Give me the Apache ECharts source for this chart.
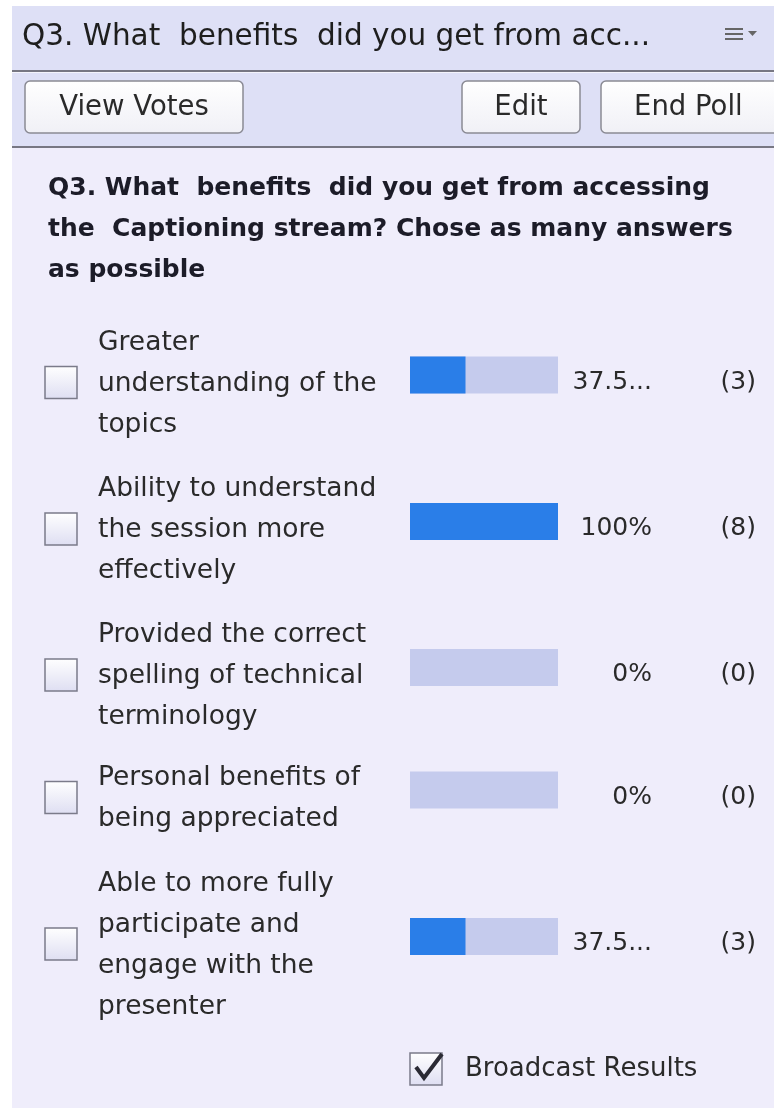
<!DOCTYPE html>
<html>
<head>
<meta charset="utf-8">
<script src="https://cdn.jsdelivr.net/npm/echarts@6/dist/echarts.min.js"></script>
<style>
html, body { margin: 0; padding: 0; background: #fff; }
#main { width: 774px; height: 1108px; }
</style>
</head>
<body>
<div id="main"></div>
<script>
// poll data
var panelTitle = 'Q3. What  benefits  did you get from acc...';
var question = 'Q3. What  benefits  did you get from accessing\nthe  Captioning stream? Chose as many answers\nas possible';
var answers = [
  'Greater\nunderstanding of the\ntopics',
  'Ability to understand\nthe session more\neffectively',
  'Provided the correct\nspelling of technical\nterminology',
  'Personal benefits of\nbeing appreciated',
  'Able to more fully\nparticipate and\nengage with the\npresenter'
];
var percents = [37.5, 100, 0, 0, 37.5];
var votes = [3, 8, 0, 0, 3];
var buttons = ['View Votes', 'Edit', 'End Poll'];
var broadcastLabel = 'Broadcast Results';

var FONT = 'DejaVu Sans';
var rowCenters = [375, 521.5, 667.5, 790, 936.5];
var btnBoxes = [[25, 218], [462, 118], [601, 190]];

function pctText(v) {
  var s = v + '%';
  return s.length > 4 ? s.slice(0, 4) + '...' : s;
}

var chart = echarts.init(document.getElementById('main'));

var grids = [], xAxes = [], yAxes = [], series = [];
answers.forEach(function (a, i) {
  grids.push({ left: 410, width: 148, top: rowCenters[i] - 18.5, height: 37 });
  xAxes.push({ gridIndex: i, type: 'value', min: 0, max: 100, show: false });
  yAxes.push({ gridIndex: i, type: 'category', data: [a], show: false });
  series.push({
    type: 'bar', xAxisIndex: i, yAxisIndex: i, data: [percents[i]],
    barWidth: 37, silent: true,
    showBackground: true, backgroundStyle: { color: '#c5cbed' },
    itemStyle: { color: '#2a7ee8' },
    label: {
      show: true, position: [164, 25.5], align: 'left', verticalAlign: 'middle',
      formatter: function () {
        return '{p|' + pctText(percents[i]) + '}{c|(' + votes[i] + ')}';
      },
      rich: {
        p: { width: 78, align: 'right', fontSize: 25, fontFamily: FONT, color: '#2a2a2a' },
        c: { width: 104, align: 'right', fontSize: 25, fontFamily: FONT, color: '#2a2a2a' }
      }
    }
  });
});

var boxFill = new echarts.graphic.LinearGradient(0, 0, 0, 1, [
  { offset: 0, color: '#ffffff' }, { offset: 1, color: '#dedef2' }
]);
var btnFill = new echarts.graphic.LinearGradient(0, 0, 0, 1, [
  { offset: 0, color: '#ffffff' }, { offset: 1, color: '#f0f0f6' }
]);

var graphics = [
  { type: 'rect', shape: { x: 12, y: 6, width: 762, height: 1102 }, style: { fill: '#efedfb' }, z: -10 },
  { type: 'rect', shape: { x: 12, y: 6, width: 762, height: 141 }, style: { fill: '#dee0f6' }, z: -9 },
  { type: 'rect', shape: { x: 12, y: 70, width: 762, height: 2 }, style: { fill: '#777783' } },
  { type: 'rect', shape: { x: 12, y: 72, width: 762, height: 1 }, style: { fill: '#f4f4fc' } },
  { type: 'rect', shape: { x: 12, y: 146, width: 762, height: 2 }, style: { fill: '#777783' } },
  { type: 'text', x: 22, y: 37, style: { text: panelTitle, font: '29.5px "' + FONT + '"', fill: '#1e1e1e', verticalAlign: 'middle' } },
  // menu icon
  { type: 'rect', shape: { x: 725, y: 28, width: 18, height: 2 }, style: { fill: '#666' } },
  { type: 'rect', shape: { x: 725, y: 33, width: 18, height: 2 }, style: { fill: '#666' } },
  { type: 'rect', shape: { x: 725, y: 38, width: 18, height: 2 }, style: { fill: '#666' } },
  { type: 'polygon', shape: { points: [[748, 31], [757, 31], [752.5, 36]] }, style: { fill: '#666' } },
  { type: 'text', x: 48, y: 168, style: { text: question, font: 'bold 25px "' + FONT + '"', fill: '#1c1c28', lineHeight: 41 } },
  // broadcast
  { type: 'rect', shape: { x: 410, y: 1053, width: 32, height: 32 }, style: { fill: boxFill, stroke: '#7b7b8a', lineWidth: 1.5 } },
  { type: 'polyline', shape: { points: [[416, 1067], [424, 1078], [442, 1054]] }, style: { stroke: '#2a2a34', lineWidth: 4, lineJoin: 'miter' } },
  { type: 'text', x: 465, y: 1069, style: { text: broadcastLabel, font: '26px "' + FONT + '"', fill: '#2a2a2a', verticalAlign: 'middle' } }
];

buttons.forEach(function (b, i) {
  var bx = btnBoxes[i];
  graphics.push({ type: 'rect', shape: { x: bx[0], y: 81, width: bx[1], height: 52, r: 5 }, style: { fill: btnFill, stroke: '#8a8a94', lineWidth: 1.5 } });
  graphics.push({ type: 'text', x: i === 2 ? 634 : bx[0] + bx[1] / 2, y: 108, style: { text: b, font: '27.5px "' + FONT + '"', fill: '#2a2a2a', align: i === 2 ? 'left' : 'center', verticalAlign: 'middle' } });
});

// checkbox + answer text per row
rowCenters.forEach(function (c, i) {
  graphics.push({ type: 'rect', shape: { x: 45, y: c + 7.5 - 16, width: 32, height: 32 }, style: { fill: boxFill, stroke: '#7b7b8a', lineWidth: 1.5 } });
  graphics.push({ type: 'text', x: 98, y: c + 9, style: { text: answers[i], font: '26.5px "' + FONT + '"', fill: '#2a2a2a', lineHeight: 41, verticalAlign: 'middle' } });
});

chart.setOption({
  animation: false,
  backgroundColor: '#ffffff',
  grid: grids,
  xAxis: xAxes,
  yAxis: yAxes,
  series: series,
  graphic: { elements: graphics }
});
</script>
</body>
</html>
